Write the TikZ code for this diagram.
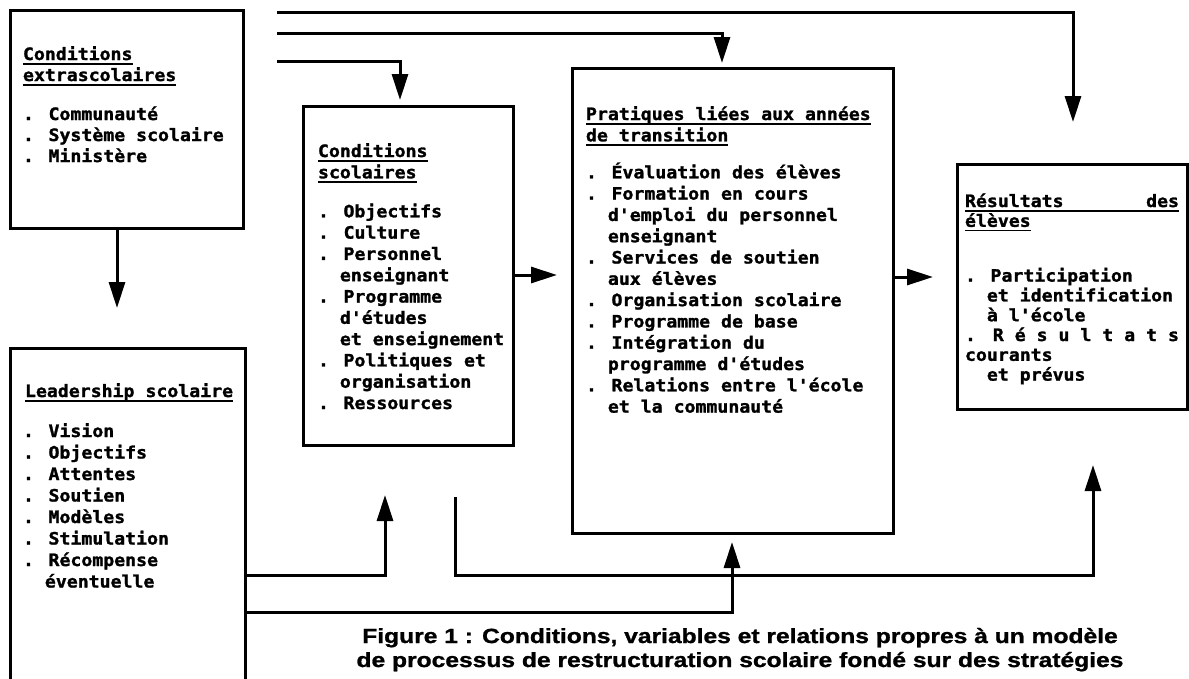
\documentclass[tikz,border=0pt]{standalone}
\usepackage{fontspec}
\usetikzlibrary{arrows.meta}
\newfontfamily\boxfont{DejaVu Sans Mono}[FakeStretch=1.07, BoldFeatures={FakeBold=1.5}]
\newfontfamily\capfont{Liberation Sans}[FakeStretch=1.2, BoldFeatures={FakeBold=1.2}]
\newcommand\ulx[1]{\setbox0=\hbox{#1}\rlap{\rule[-4.5pt]{\wd0}{1.8pt}}\box0}
\newcommand\ind{\phantom{..}}
\newcommand\txtlines[2]{\vtop{\baselineskip=#1\lineskiplimit=-100pt\lineskip=0pt\halign{##\hfil\cr#2\crcr}}}
\newcommand\gap[1]{\noalign{\vskip #1}}
\tikzset{
  boxnode/.style={draw, line width=3pt, inner sep=0pt, outer sep=0pt, anchor=north west},
  arr/.style={line width=3pt, -{Triangle[length=26pt,width=16pt]}},
  txt/.style={anchor=base west, inner sep=0pt, outer sep=0pt, font=\boxfont\bfseries\fontsize{17}{21}\selectfont},
  captxt/.style={anchor=base, inner sep=0pt, font=\capfont\bfseries\fontsize{20.5}{24}\selectfont}
}
\begin{document}
\begin{tikzpicture}[x=1pt, y=-1pt]
\useasboundingbox (0,0) rectangle (1189,678);
\fill[white] (0,0) rectangle (1189,678);
\clip (0,0) rectangle (1189,678);

% boxes
\node[boxnode, minimum width=233pt, minimum height=218pt] (ext) at (10,10) {};
\node[boxnode, minimum width=210pt, minimum height=339pt] (sco) at (303,106) {};
\node[boxnode, minimum width=321pt, minimum height=465pt] (pra) at (572,68) {};
\node[boxnode, minimum width=230pt, minimum height=245pt] (res) at (957,164) {};
\node[boxnode, minimum width=235pt, minimum height=345pt] (lead) at (10,348) {};

% texts
\node[txt] (extT) at (23,60) {\txtlines{21pt}{\ulx{Conditions}\cr \ulx{extrascolaires}\cr\gap{18pt}
. Communauté\cr . Système scolaire\cr . Ministère}};

\node[txt] (scoT) at (318,157) {\txtlines{21.3pt}{\ulx{Conditions}\cr \ulx{scolaires}\cr\gap{17.7pt}
. Objectifs\cr . Culture\cr . Personnel\cr \ind enseignant\cr . Programme\cr \ind d'études\cr \ind et enseignement\cr . Politiques et\cr \ind organisation\cr . Ressources}};

\node[txt] (praT) at (586,120) {\txtlines{21.3pt}{\ulx{Pratiques liées aux années}\cr \ulx{de transition}\cr\gap{15.7pt}
. Évaluation des élèves\cr . Formation en cours\cr \ind d'emploi du personnel\cr \ind enseignant\cr . Services de soutien\cr \ind aux élèves\cr . Organisation scolaire\cr . Programme de base\cr . Intégration du\cr \ind programme d'études\cr . Relations entre l'école\cr \ind et la communauté}};

\node[txt] (resT) at (965,207) {\txtlines{19.8pt}{\ulx{\hbox to 214pt{Résultats\hfill des}}\cr \ulx{élèves}\cr\gap{35pt}
. Participation\cr \ind et identification\cr \ind à l'école\cr \hbox to 214pt{.\hfill R é s u l t a t s}\cr courants\cr \ind et prévus}};

\node[txt] (leadT) at (25,397) {\txtlines{21.5pt}{\ulx{Leadership scolaire}\cr\gap{18.5pt}
\hspace{-2pt}. Vision\cr \hspace{-2pt}. Objectifs\cr \hspace{-2pt}. Attentes\cr \hspace{-2pt}. Soutien\cr \hspace{-2pt}. Modèles\cr \hspace{-2pt}. Stimulation\cr \hspace{-2pt}. Récompense\cr \hspace{-2pt}\ind éventuelle}};

% caption
\node[captxt] (cap1) at (740,643) {Figure 1 : Conditions, variables et relations propres à un modèle};
\node[captxt] (cap2) at (740,667) {de processus de restructuration scolaire fondé sur des stratégies};

% coordinates for free ends
\coordinate (e1) at (117,308);
\coordinate (fa) at (277,12);
\coordinate (ta) at (1073,122);
\coordinate (fb) at (277,33);
\coordinate (tb) at (722,63);
\coordinate (fc) at (277,61);
\coordinate (tc) at (400,100);
\coordinate (t5) at (557,275);
\coordinate (t6) at (933,277);
\coordinate (y575) at (0,575);
\coordinate (y612) at (0,612);
\coordinate (t7) at (385,495);
\coordinate (s8) at (455,497);
\coordinate (t8) at (1093,465);
\coordinate (t9) at (732,542);

% connectors
\draw[arr] (ext.south -| e1) -- (e1);
\draw[arr] (fa) -| (ta);
\draw[arr] (fb) -| (tb);
\draw[arr] (fc) -| (tc);
\draw[arr] (sco.east |- t5) -- (t5);
\draw[arr] (pra.east |- t6) -- (t6);
\draw[arr] (lead.east |- y575) -| (t7);
\draw[arr] (s8) -- (s8 |- y575) -- (t8 |- y575) -- (t8);
\draw[arr] (lead.east |- y612) -| (t9);
\end{tikzpicture}
\end{document}
